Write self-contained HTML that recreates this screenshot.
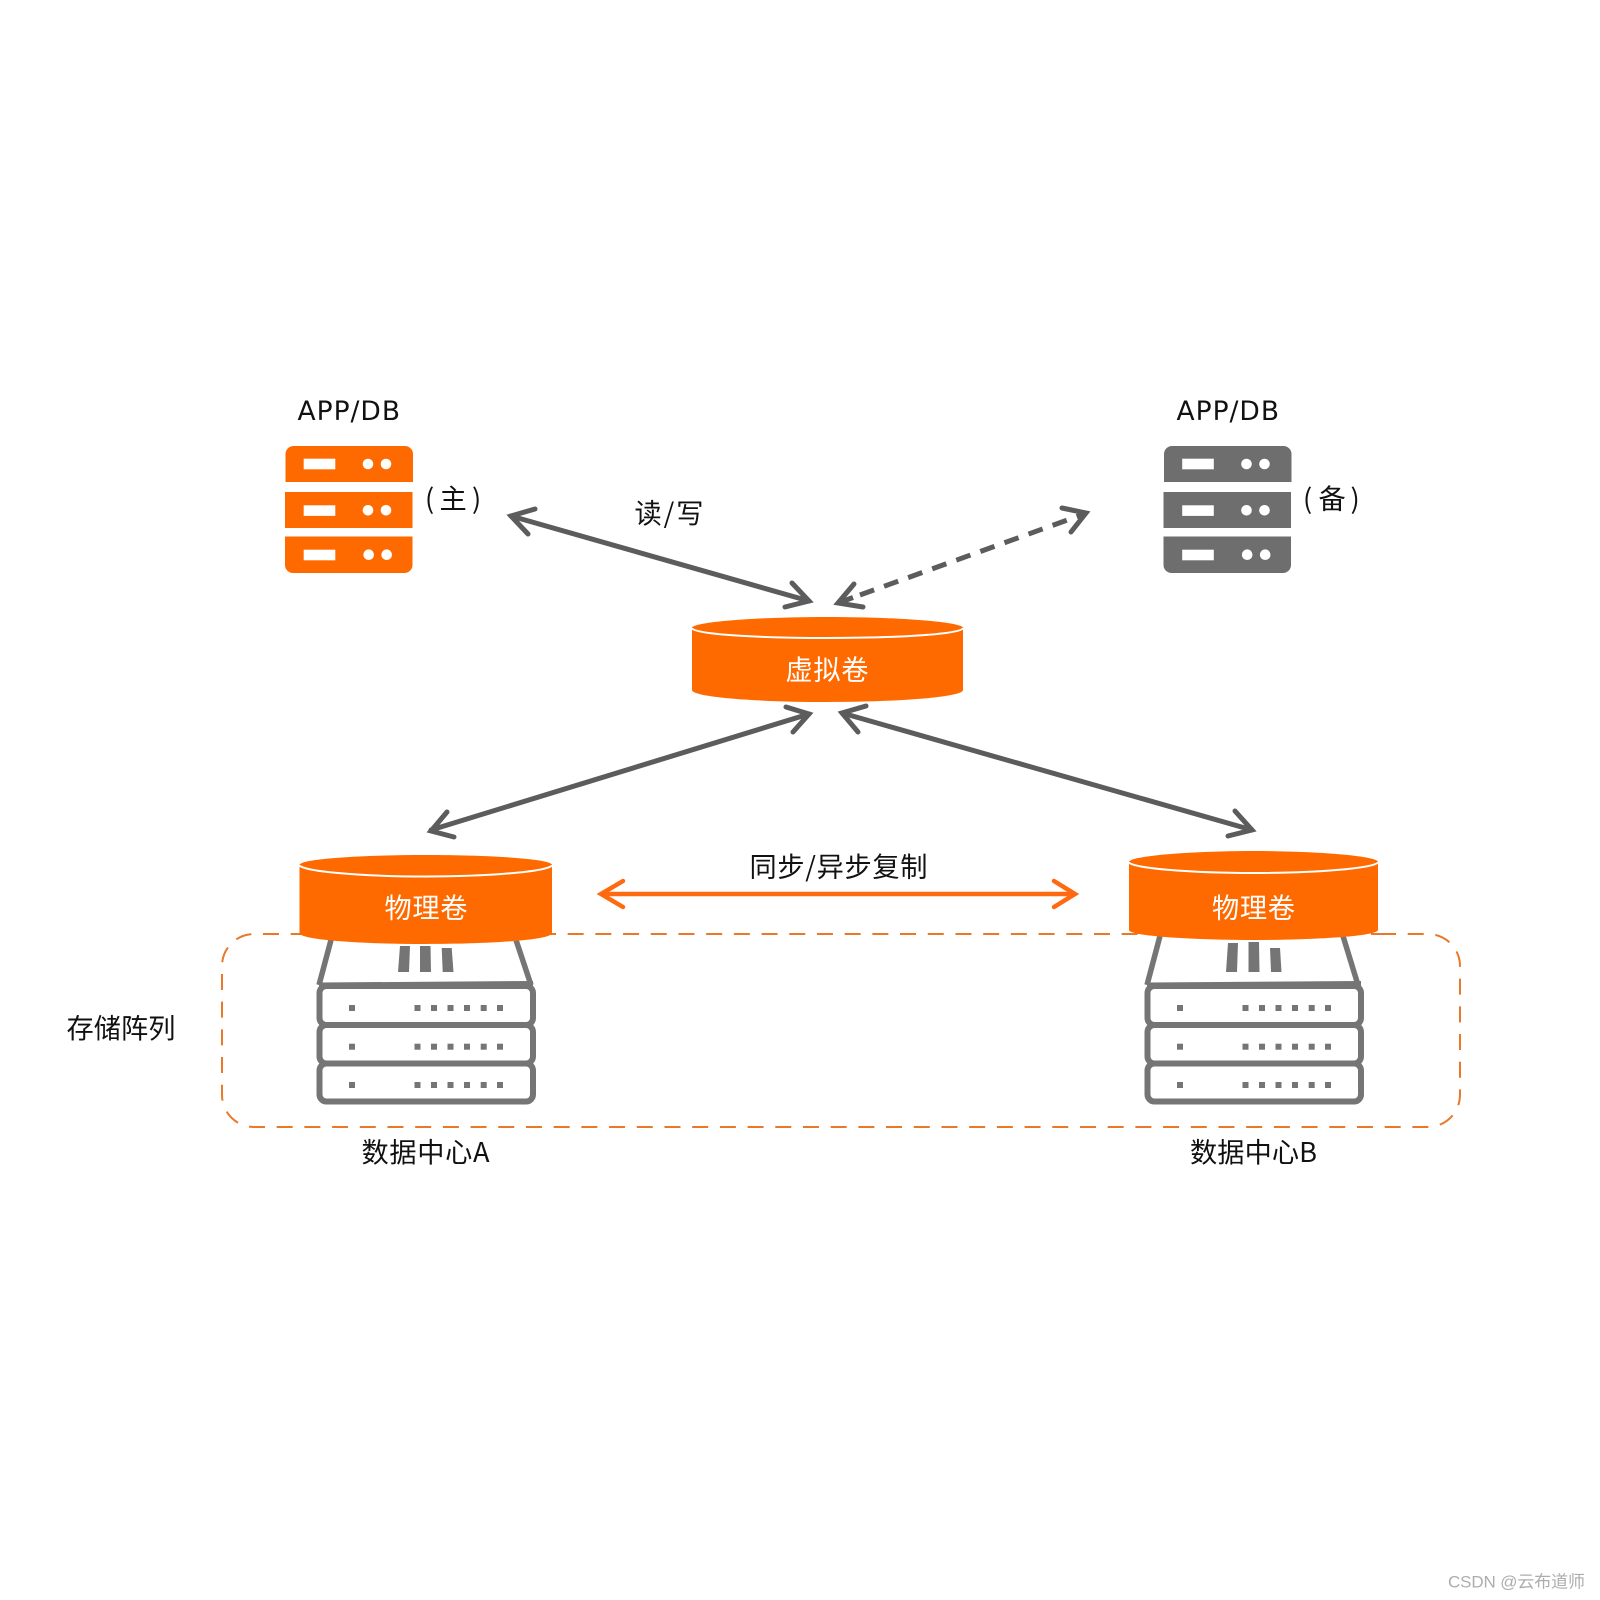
<!DOCTYPE html>
<html lang="zh"><head><meta charset="utf-8"><title>diagram</title>
<style>
html,body{margin:0;padding:0;background:#fff}
svg{display:block}
text{font-family:"DejaVu Sans","Noto Sans CJK SC",sans-serif;fill:#111}
.c{font-family:"Noto Sans CJK SC","WenQuanYi Zen Hei",sans-serif;font-size:27.2px}
.w{fill:#fff}
</style></head><body>
<svg width="1600" height="1600" viewBox="0 0 1600 1600" xmlns="http://www.w3.org/2000/svg">
<defs>
<g id="srv">
<path d="M285.500 482V454a8 8 0 0 1 8-8H405a8 8 0 0 1 8 8V482Z"/>
<rect x="285" y="492" width="127.500" height="36"/>
<path d="M285 536.500H412.500V565a8 8 0 0 1-8 8H293a8 8 0 0 1-8-8Z"/>
<g fill="#fff">
<rect x="303.700" y="458.700" width="31.600" height="10.600"/>
<rect x="303.700" y="505.300" width="31.600" height="10.600"/>
<rect x="303.700" y="549.700" width="31.600" height="10.600"/>
<circle cx="368" cy="464" r="5.300"/><circle cx="386" cy="464" r="5.300"/>
<circle cx="368" cy="510.300" r="5.300"/><circle cx="386" cy="510.300" r="5.300"/>
<circle cx="368.700" cy="554.700" r="5.300"/><circle cx="386.700" cy="554.700" r="5.300"/>
</g>
</g>
<g id="arr">
<path d="M319 985L533 983.500" fill="none" stroke="#757575" stroke-width="5"/>
<rect x="319.500" y="986" width="213.500" height="39" rx="7" fill="none" stroke="#757575" stroke-width="6"/>
<rect x="319.500" y="1025" width="213.500" height="38.500" rx="7" fill="none" stroke="#757575" stroke-width="6"/>
<rect x="319.500" y="1063.500" width="213.500" height="38" rx="7" fill="none" stroke="#757575" stroke-width="6"/>
<g fill="#757575">
<g id="dots">
<rect x="349" y="1005" width="6" height="6"/>
<rect x="414.500" y="1005" width="6" height="6"/><rect x="431" y="1005" width="6" height="6"/><rect x="447.500" y="1005" width="6" height="6"/><rect x="464" y="1005" width="6" height="6"/><rect x="480.700" y="1005" width="6" height="6"/><rect x="497" y="1005" width="6" height="6"/>
</g>
<use href="#dots" y="38.700"/><use href="#dots" y="77"/>
</g>
</g>
</defs>

<rect width="1600" height="1600" fill="#fff"/>

<!-- dashed storage box -->
<path d="M1380 934H1428A32 32 0 0 1 1460 966V1095A32 32 0 0 1 1428 1127H254A32 32 0 0 1 222 1095V966A32 32 0 0 1 254 934H1380" fill="none" stroke="#e97828" stroke-width="2" stroke-dasharray="16 11.700"/>

<!-- servers -->
<use href="#srv" fill="#ff6a00"/>
<use href="#srv" x="878.500" fill="#6e6e6e"/>

<!-- connectors -->
<g fill="none" stroke="#5c5c5c" stroke-width="5" stroke-linecap="round" stroke-linejoin="miter">
<path d="M511 516L809 601"/>
<path d="M535 509L511 516L528 534"/>
<path d="M792 583L809 601L785 607"/>
<path d="M860 595L1084 514" stroke-dasharray="15 10.600" stroke-linecap="butt"/>
<path d="M838 603L853 597.500" stroke-linecap="butt"/>
<path d="M854 584L838 603L863 607"/>
<path d="M1062 508L1086 513L1071 532"/>
<path d="M431 830L809 714"/>
<path d="M447 812L431 831L454 837"/>
<path d="M786 707L809 714L793 732"/>
<path d="M842 713L1252 830"/>
<path d="M866 706L842 713L858 732"/>
<path d="M1235 811L1252 830L1228 836"/>
</g>
<g fill="none" stroke="#ff6a10" stroke-width="4.500" stroke-linecap="round">
<path d="M602 894H1074"/>
<path d="M623 881L601 894L623 907"/>
<path d="M1054 881L1075 894L1054 907"/>
</g>

<!-- storage arrays -->
<g>
<g stroke="#757575" stroke-width="5.500" fill="none">
<path d="M331 940L319 985M516 940L531 985"/>
</g>
<path d="M400 946H410L409 972H398ZM420 946H430.500L431 972H420ZM441.700 948H451.700L453.500 972H442.700Z" fill="#757575"/>
<use href="#arr"/>
</g>
<g>
<g stroke="#757575" stroke-width="5.500" fill="none">
<path d="M1160 936L1147 985M1343 936L1358 985"/>
</g>
<path d="M1228 943H1238L1237 972H1226ZM1248.500 942H1259L1259.500 972H1248.500ZM1270 948H1280L1281.500 972H1271Z" fill="#757575"/>
<use href="#arr" x="828"/>
</g>

<!-- cylinders -->
<g fill="#ff6a00">
<path d="M692 628C692 622 755 617 827 617S963 622 963 628V690C963 697 900 702 827 702S692 697 692 690Z"/>
<path d="M299.500 865C299.500 859 360 855 426 855S552 859 552 865V933C552 940 490 944 426 944S299.500 940 299.500 933Z"/>
<path d="M1129 862C1129 856 1190 851 1253.500 851S1378 856 1378 862V930C1378 936 1316 940 1253.500 940S1129 936 1129 930Z"/>
</g>
<g fill="none" stroke="#fff" stroke-width="2">
<path d="M692 628C692 634 755 638 827 638S963 634 963 628"/>
<path d="M299.500 865C299.500 871 360 876.500 426 876.500S552 871 552 865"/>
<path d="M1129 862C1129 868 1190 873 1253.500 873S1378 868 1378 862"/>
</g>

<!-- labels -->
<text x="297.500" y="420" font-size="26.500" textLength="102.500" lengthAdjust="spacing">APP/DB</text>
<text x="1176.500" y="420" font-size="26.500" textLength="102.500" lengthAdjust="spacing">APP/DB</text>
<text class="c" x="425 439.500 472" y="508.500">(主)</text>
<text class="c" x="1303 1318.500 1350.500" y="508.500">(备)</text>
<text class="c" x="634.500" y="523" textLength="69" lengthAdjust="spacing">读/写</text>
<text class="c w" x="827" y="679.500" text-anchor="middle" textLength="83" lengthAdjust="spacing">虚拟卷</text>
<text class="c w" x="426" y="917.500" text-anchor="middle" textLength="83" lengthAdjust="spacing">物理卷</text>
<text class="c w" x="1253.500" y="917.500" text-anchor="middle" textLength="83" lengthAdjust="spacing">物理卷</text>
<text class="c" x="749.500" y="876.500" textLength="178" lengthAdjust="spacing">同步/异步复制</text>
<text class="c" x="66.500" y="1038" textLength="109" lengthAdjust="spacing">存储阵列</text>
<text class="c" x="361.500" y="1162" textLength="128" lengthAdjust="spacing">数据中心A</text>
<text class="c" x="1190" y="1162" textLength="127" lengthAdjust="spacing">数据中心B</text>
<text x="1448" y="1587.500" font-size="17" style="font-family:'Liberation Sans','Noto Sans CJK SC',sans-serif;fill:#adadad" textLength="137" lengthAdjust="spacing">CSDN @云布道师</text>
</svg>
</body></html>
